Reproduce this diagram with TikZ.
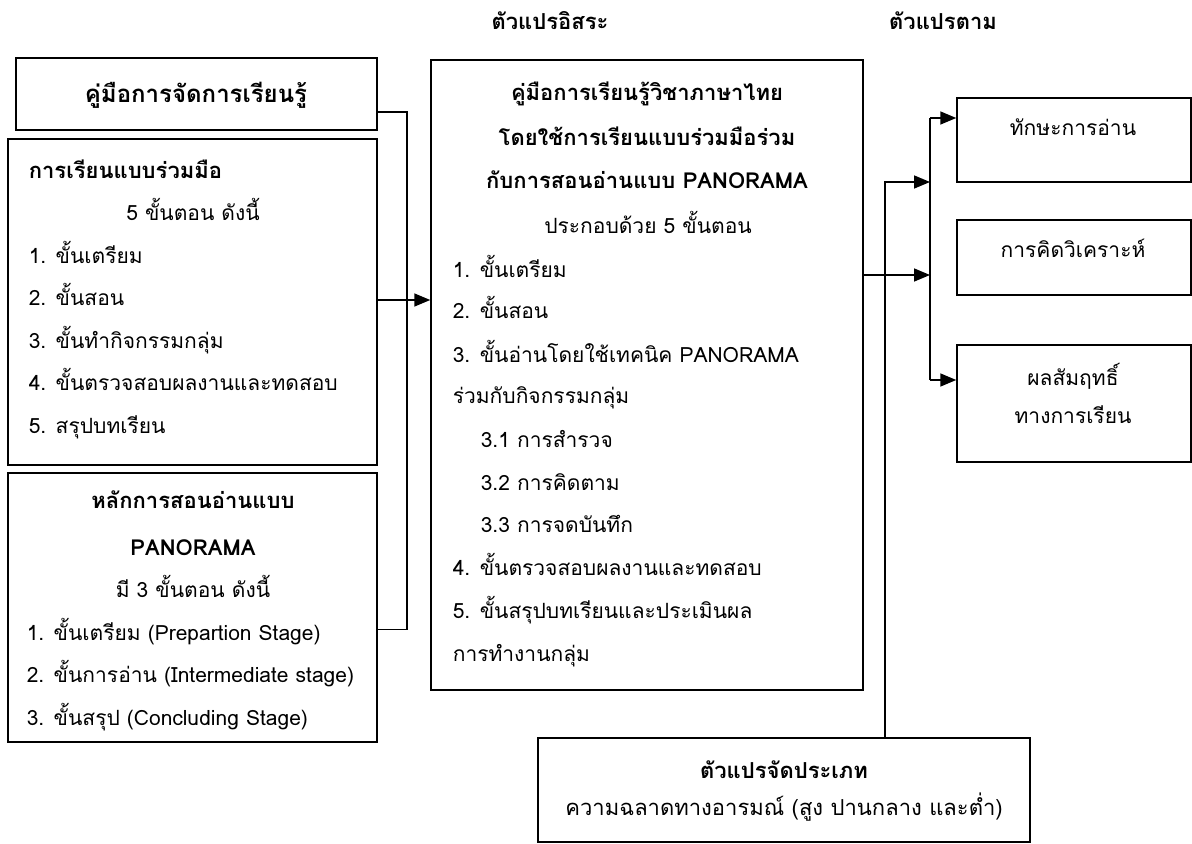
\documentclass[tikz,border=0pt]{standalone}
\usepackage{fontspec}
\setmainfont[Script=Thai]{Loma}
\usetikzlibrary{arrows.meta}
\tikzset{
  box/.style={draw, line width=0.75pt, rectangle, inner sep=0pt},
  txt/.style={inner sep=0pt, text height=1.6ex, text depth=0.5ex, font=\fontsize{10.5}{12}\selectfont},
  head/.style={txt, font=\fontsize{11}{13}\selectfont\bfseries},
  arr/.style={-{Triangle[length=8pt,width=6.5pt]}},
}
\begin{document}
\begin{tikzpicture}[x=0.5pt, y=-0.5pt, line width=0.8pt]
  \useasboundingbox (0,0) rectangle (1192,844);
  \node[box, minimum width=180.5pt, minimum height=36pt] (man) at (196.5,94) {};
  \node[box, minimum width=184.5pt, minimum height=163pt] (coop) at (192.5,302) {};
  \node[box, minimum width=184.5pt, minimum height=134.5pt] (pano) at (192.5,607.5) {};
  \node[box, minimum width=216pt, minimum height=315pt] (mid) at (647,375) {};
  \node[box, minimum width=117pt, minimum height=42pt] (read) at (1074,140) {};
  \node[box, minimum width=117pt, minimum height=37.5pt] (think) at (1074,257.5) {};
  \node[box, minimum width=117pt, minimum height=58.5pt] (ach) at (1074,403.5) {};
  \node[box, minimum width=246pt, minimum height=52pt] (emo) at (784,790) {};

  \node[head] (hind) at (550,24) {ตัวแปรอิสระ};
  \node[head] (hdep) at (943,24) {ตัวแปรตาม};

  \node[head, font=\fontsize{12}{14}\selectfont\bfseries] (man1) at (196,97) {คู่มือการจัดการเรียนรู้};

  \node[head, anchor=west] (coop1) at (28,173) {การเรียนแบบร่วมมือ};
  \node[txt] (coop2) at (193,215) {5 ขั้นตอน ดังนี้};
  \node[txt, anchor=west] (coop3) at (28,258) {1. ขั้นเตรียม};
  \node[txt, anchor=west] (coop4) at (28,300) {2. ขั้นสอน};
  \node[txt, anchor=west] (coop5) at (28,343) {3. ขั้นทำกิจกรรมกลุ่ม};
  \node[txt, anchor=west] (coop6) at (28,385) {4. ขั้นตรวจสอบผลงานและทดสอบ};
  \node[txt, anchor=west] (coop7) at (28,428) {5. สรุปบทเรียน};

  \node[head] (pano1) at (193,503) {หลักการสอนอ่านแบบ};
  \node[head] (pano2) at (193,550) {PANORAMA};
  \node[txt] (pano3) at (193,592) {มี 3 ขั้นตอน ดังนี้};
  \node[txt, anchor=west] (pano4) at (26,635) {1. ขั้นเตรียม (Prepartion Stage)};
  \node[txt, anchor=west] (pano5) at (26,677) {2. ขั้นการอ่าน (Intermediate stage)};
  \node[txt, anchor=west] (pano6) at (26,720) {3. ขั้นสรุป (Concluding Stage)};

  \node[head] (mid1) at (647,95) {คู่มือการเรียนรู้วิชาภาษาไทย};
  \node[head] (mid2) at (647,140) {โดยใช้การเรียนแบบร่วมมือร่วม};
  \node[head] (mid3) at (647,183) {กับการสอนอ่านแบบ PANORAMA};
  \node[txt] (mid4) at (648,228) {ประกอบด้วย 5 ขั้นตอน};
  \node[txt, anchor=west] (mid5) at (452,272) {1. ขั้นเตรียม};
  \node[txt, anchor=west] (mid6) at (452,313) {2. ขั้นสอน};
  \node[txt, anchor=west] (mid7) at (452,357) {3. ขั้นอ่านโดยใช้เทคนิค PANORAMA};
  \node[txt, anchor=west] (mid8) at (452,398) {ร่วมกับกิจกรรมกลุ่ม};
  \node[txt, anchor=west] (mid9) at (480,442) {3.1 การสำรวจ};
  \node[txt, anchor=west] (mid10) at (480,485) {3.2 การคิดตาม};
  \node[txt, anchor=west] (mid11) at (480,527) {3.3 การจดบันทึก};
  \node[txt, anchor=west] (mid12) at (452,570) {4. ขั้นตรวจสอบผลงานและทดสอบ};
  \node[txt, anchor=west] (mid13) at (452,613) {5. ขั้นสรุปบทเรียนและประเมินผล};
  \node[txt, anchor=west] (mid14) at (452,656) {การทำงานกลุ่ม};

  \node[txt] (read1) at (1073,130) {ทักษะการอ่าน};
  \node[txt] (think1) at (1073,252) {การคิดวิเคราะห์};
  \node[txt] (ach1) at (1073,380) {ผลสัมฤทธิ์};
  \node[txt] (ach2) at (1073,418) {ทางการเรียน};

  \node[head] (emo1) at (784,773) {ตัวแปรจัดประเภท};
  \node[txt, font=\fontsize{11}{13}\selectfont] (emo2) at (784,810) {ความฉลาดทางอารมณ์ (สูง ปานกลาง และต่ำ)};

  \coordinate (lbus) at (407,300);
  \coordinate (rtop) at (930,118);
  \coordinate (rbot) at (930,380);
  \coordinate (rmid) at (930,275);
  \coordinate (rup) at (930,182);
  \coordinate (eup) at (885,182);

  \begin{scope}[-]
    \draw ([yshift=-9pt]man.east) -| (lbus) |- ([yshift=-11pt]pano.east);
    \draw[arr] (coop.east |- lbus) -- (mid.west |- lbus);
    \draw (rtop) -- (rbot);
    \draw[arr] (rtop) -- (read.west |- rtop);
    \draw[arr] (rbot) -- (ach.west |- rbot);
    \draw[arr] (mid.east |- rmid) -- (rmid);
    \draw[arr] (emo.north -| eup) |- (rup);
  \end{scope}
\end{tikzpicture}
\end{document}
